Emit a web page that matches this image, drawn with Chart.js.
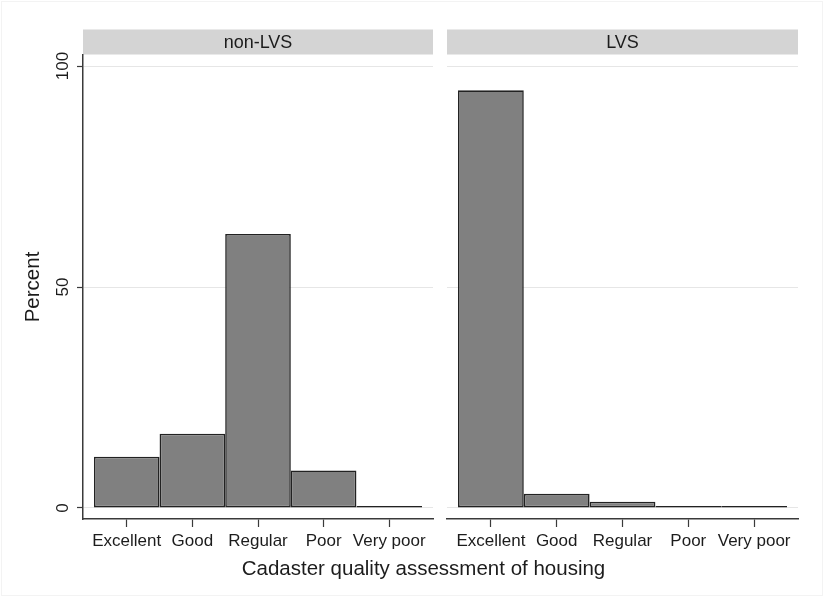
<!DOCTYPE html>
<html>
<head>
<meta charset="utf-8">
<title>Cadaster quality assessment of housing</title>
<script src="https://cdn.jsdelivr.net/npm/chart.js@4.4.1/dist/chart.umd.min.js"></script>
<style>
  html, body { margin: 0; padding: 0; background: #ffffff; }
  #wrap { position: relative; width: 824px; height: 597px; overflow: hidden; background: #ffffff; }
  #wrap::after { content: ''; position: absolute; left: 1px; top: 1px; right: 1px; bottom: 1px;
                 border: 1px solid #f3f3f3; pointer-events: none; }
  #leftPanel { position: absolute; left: 0; top: 0; }
  #rightPanel { position: absolute; left: 440px; top: 0; }
  #xTitle { position: absolute; left: 0; width: 847px; top: 556px; text-align: center;
            font: 20.5px "Liberation Sans", Arial, sans-serif; line-height: 24px; color: #1c1c1c; }
</style>
</head>
<body>
<div id="wrap">
  <canvas id="leftPanel" width="440" height="597"></canvas>
  <canvas id="rightPanel" width="384" height="597"></canvas>
  <div id="xTitle">Cadaster quality assessment of housing</div>
</div>
<script>
// Housing quality categories and the share (%) of each group
const categories = ['Excellent', 'Good', 'Regular', 'Poor', 'Very poor'];
const nonLvsPercent = [11.6, 16.8, 62.0, 8.5, 0.3];
const lvsPercent = [94.5, 3.2, 1.4, 0.2, 0.1];
const yTickValues = [0, 50, 100];
const panelTitles = ['non-LVS', 'LVS'];
const yAxisTitle = 'Percent';

const FONT = '"Liberation Sans", Arial, sans-serif';
const TEXT = '#1c1c1c';
const AXIS = '#3a3a3a';

// Grey strip with the panel name above each plot area
const stripPlugin = {
  id: 'strip',
  beforeDraw(chart, args, opts) {
    const { ctx, chartArea } = chart;
    ctx.save();
    ctx.fillStyle = '#d4d4d4';
    ctx.fillRect(chartArea.left, 29.5, chartArea.right - chartArea.left, 25);
    ctx.fillStyle = TEXT;
    ctx.font = '18px ' + FONT;
    ctx.textAlign = 'center';
    ctx.textBaseline = 'middle';
    ctx.fillText(opts.text, (chartArea.left + chartArea.right) / 2, 43);
    ctx.restore();
  }
};

// Vertical y tick labels and the y axis title (left panel only)
const yLabelPlugin = {
  id: 'yLabels',
  afterDraw(chart, args, opts) {
    if (!opts.show) return;
    const { ctx, chartArea } = chart;
    const y = chart.scales.y;
    ctx.save();
    ctx.fillStyle = TEXT;
    ctx.textAlign = 'center';
    ctx.textBaseline = 'middle';
    ctx.font = '17px ' + FONT;
    y.ticks.forEach(t => {
      ctx.save();
      ctx.translate(63, y.getPixelForValue(t.value));
      ctx.rotate(-Math.PI / 2);
      ctx.fillText(String(t.value), 0, 0);
      ctx.restore();
    });
    ctx.font = '20.5px ' + FONT;
    ctx.translate(33, (chartArea.top + chartArea.bottom) / 2);
    ctx.rotate(-Math.PI / 2);
    ctx.fillText(yAxisTitle, 0, 0);
    ctx.restore();
  }
};

function makePanel(canvasId, title, values, isLeft) {
  const data = values.map((v, i) => ({ x: i + 1, y: v }));
  return new Chart(document.getElementById(canvasId), {
    type: 'bar',
    data: {
      datasets: [{
        data: data,
        backgroundColor: '#808080',
        borderColor: '#222222',
        borderWidth: 1.6,
        borderSkipped: false,
        inflateAmount: 0,
        minBarLength: 2,
        barPercentage: 1,
        categoryPercentage: 1
      }]
    },
    plugins: [stripPlugin, yLabelPlugin],
    options: {
      responsive: false,
      devicePixelRatio: 1,
      animation: false,
      events: [],
      layout: { padding: isLeft ? { top: 55, left: 0, right: 7, bottom: 0 }
                                : { top: 55, left: 7, right: 26, bottom: 0 } },
      plugins: {
        legend: { display: false },
        tooltip: { enabled: false },
        strip: { text: title },
        yLabels: { show: isLeft }
      },
      scales: {
        x: {
          type: 'linear',
          offset: false,
          min: 1 / 3,
          max: 17 / 3,
          afterBuildTicks: s => { s.ticks = categories.map((c, i) => ({ value: i + 1 })); },
          afterFit: s => { s.height = 78; },
          ticks: {
            callback: v => categories[v - 1],
            autoSkip: false,
            maxRotation: 0,
            minRotation: 0,
            padding: 4,
            color: TEXT,
            font: { family: FONT, size: 17 }
          },
          grid: { offset: false, drawOnChartArea: false, drawTicks: true, tickLength: 8,
                  tickColor: AXIS, tickWidth: 1.2 },
          border: { display: true, color: AXIS, width: 1.5 }
        },
        y: {
          min: -2.5,
          max: 102.5,
          afterBuildTicks: s => { s.ticks = yTickValues.map(v => ({ value: v })); },
          afterFit: s => { s.width = isLeft ? 83 : 0; },
          ticks: { display: false },
          grid: {
            color: '#e6e6e6',
            lineWidth: 1,
            drawTicks: isLeft,
            tickLength: 6,
            tickColor: AXIS,
            tickWidth: 1.2
          },
          border: { display: isLeft, color: AXIS, width: 1.5 }
        }
      }
    }
  });
}

makePanel('leftPanel', panelTitles[0], nonLvsPercent, true);
makePanel('rightPanel', panelTitles[1], lvsPercent, false);
</script>
</body>
</html>
